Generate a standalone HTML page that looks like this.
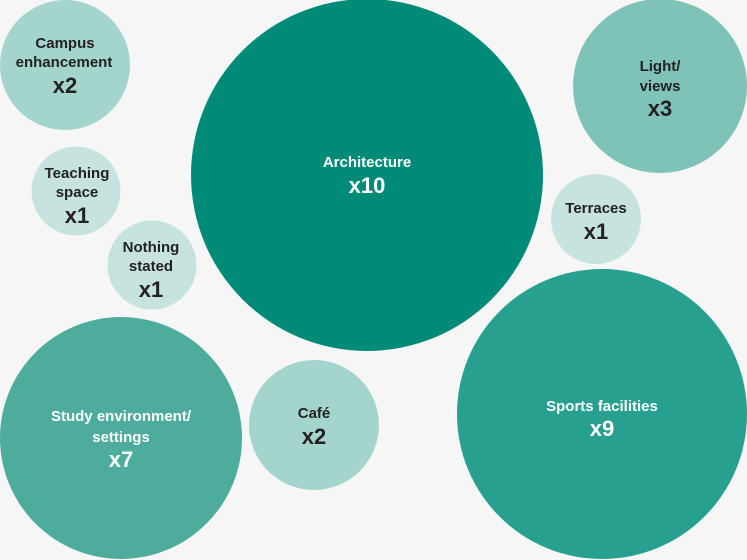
<!DOCTYPE html>
<html><head><meta charset="utf-8"><style>
html,body{margin:0;padding:0;background:#f6f6f6;}
svg{display:block;font-family:"Liberation Sans",Arial,sans-serif;font-weight:bold;}
.l{font-size:15px;} .n{font-size:22px;}
.w{fill:#fff;} .d{fill:#222;}
</style></head><body>
<svg width="747" height="560" viewBox="0 0 747 560">
<rect width="747" height="560" fill="#f6f6f6"/>
<circle cx="65" cy="65" r="65" fill="#a4d5cc"/>
<circle cx="367" cy="175" r="176" fill="#008b79"/>
<circle cx="660" cy="86" r="87" fill="#7fc3b8"/>
<circle cx="76" cy="191" r="44.5" fill="#c6e3df"/>
<circle cx="596" cy="219" r="45" fill="#c6e3df"/>
<circle cx="152" cy="265" r="44.5" fill="#c6e3df"/>
<circle cx="121" cy="438" r="121" fill="#4dac9c"/>
<circle cx="314" cy="425" r="65" fill="#a4d5cc"/>
<circle cx="602" cy="414" r="145" fill="#27a08f"/>
<g text-anchor="middle">
<text class="l d" x="65" y="48">Campus</text>
<text class="l d" x="64" y="67">enhancement</text>
<text class="n d" x="65" y="93">x2</text>
<text class="l w" x="367" y="167">Architecture</text>
<text class="n w" x="367" y="193">x10</text>
<text class="l d" x="660" y="71">Light/</text>
<text class="l d" x="660" y="91">views</text>
<text class="n d" x="660" y="116">x3</text>
<text class="l d" x="77" y="178">Teaching</text>
<text class="l d" x="77" y="197">space</text>
<text class="n d" x="77" y="223">x1</text>
<text class="l d" x="596" y="213">Terraces</text>
<text class="n d" x="596" y="239">x1</text>
<text class="l d" x="151" y="252">Nothing</text>
<text class="l d" x="151" y="271">stated</text>
<text class="n d" x="151" y="297">x1</text>
<text class="l w" x="121" y="421">Study environment/</text>
<text class="l w" x="121" y="442">settings</text>
<text class="n w" x="121" y="467">x7</text>
<text class="l d" x="314" y="418">Café</text>
<text class="n d" x="314" y="444">x2</text>
<text class="l w" x="602" y="411">Sports facilities</text>
<text class="n w" x="602" y="436">x9</text>
</g>
</svg>
</body></html>
